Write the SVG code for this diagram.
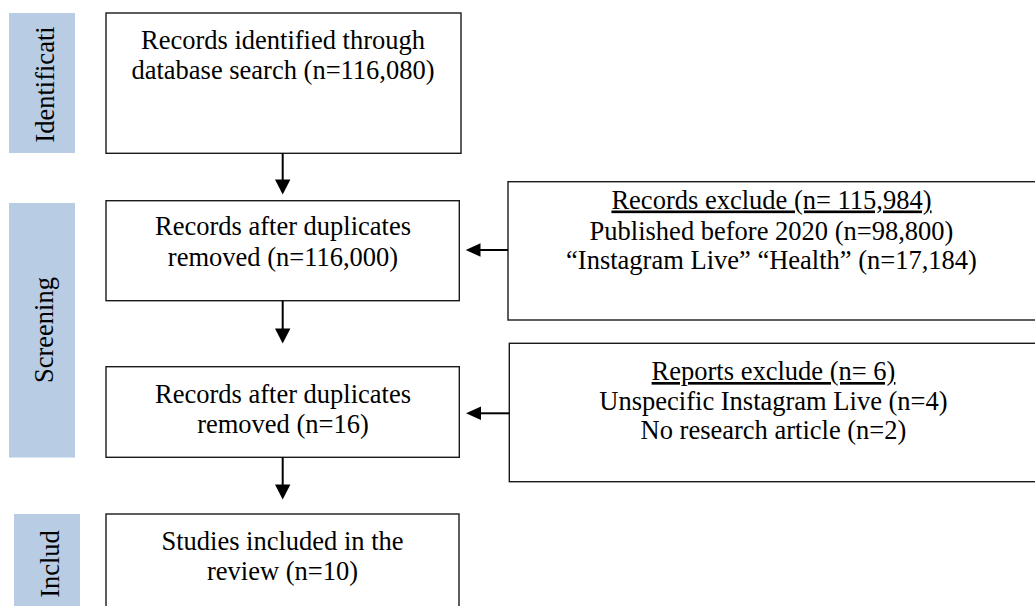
<svg xmlns="http://www.w3.org/2000/svg" width="1035" height="606" viewBox="0 0 1035 606">
  <style>
    .box { fill: #ffffff; stroke: #1a1a1a; stroke-width: 1.4; }
    .bar { fill: #b8cce4; stroke: none; }
    .t { font-family: "Liberation Serif", "Times New Roman", serif; font-size: 26.5px; fill: #000000; text-anchor: middle; }
    .conn { stroke: #000000; stroke-width: 2; fill: none; }
    .head { fill: #000000; stroke: none; }
  </style>
  <defs>
    <clipPath id="clipIdent"><rect x="9" y="13" width="66" height="140"/></clipPath>
    <clipPath id="clipIncl"><rect x="14" y="514" width="66" height="92"/></clipPath>
  </defs>
  <rect width="1035" height="606" fill="#ffffff"/>

  <g id="phase-identification">
    <rect class="bar" x="9" y="13" width="66" height="140"/>
    <g clip-path="url(#clipIdent)">
      <text class="t" transform="translate(54,84.5) rotate(-90)">Identificati</text>
    </g>
  </g>
  <g id="phase-screening">
    <rect class="bar" x="9" y="203" width="66" height="254.5"/>
    <text class="t" transform="translate(53,330) rotate(-90)">Screening</text>
  </g>
  <g id="phase-included">
    <rect class="bar" x="14" y="514" width="66" height="92"/>
    <g clip-path="url(#clipIncl)">
      <text class="t" transform="translate(59,564) rotate(-90)">Includ</text>
    </g>
  </g>

  <g id="node-identified">
    <rect class="box" x="106" y="13" width="355" height="140.3"/>
    <text class="t" x="283" y="48.5">Records identified through</text>
    <text class="t" x="283" y="78.5">database search (n=116,080)</text>
  </g>
  <g id="node-after-duplicates">
    <rect class="box" x="106" y="200.7" width="353.3" height="100"/>
    <text class="t" x="283" y="235">Records after duplicates</text>
    <text class="t" x="283" y="265.5">removed (n=116,000)</text>
  </g>
  <g id="node-records-exclude">
    <rect class="box" x="508" y="181.7" width="528" height="138.3"/>
    <text class="t" x="771.5" y="208.5" text-decoration="underline">Records exclude (n= 115,984)</text>
    <text class="t" x="771.5" y="239.5">Published before 2020 (n=98,800)</text>
    <text class="t" x="771.5" y="268.5">“Instagram Live” “Health” (n=17,184)</text>
  </g>
  <g id="node-after-screening">
    <rect class="box" x="106" y="366.7" width="353.3" height="90.6"/>
    <text class="t" x="283" y="402.5">Records after duplicates</text>
    <text class="t" x="283" y="432.5">removed (n=16)</text>
  </g>
  <g id="node-reports-exclude">
    <rect class="box" x="509.3" y="343.3" width="528" height="138.4"/>
    <text class="t" x="773.5" y="380" text-decoration="underline">Reports exclude (n= 6)</text>
    <text class="t" x="773.5" y="409.5">Unspecific Instagram Live (n=4)</text>
    <text class="t" x="773.5" y="438.5">No research article (n=2)</text>
  </g>
  <g id="node-included">
    <rect class="box" x="106" y="514" width="353" height="100"/>
    <text class="t" x="282.5" y="550">Studies included in the</text>
    <text class="t" x="282.5" y="579.5">review (n=10)</text>
  </g>

  <g id="connectors">
    <line class="conn" x1="282.7" y1="153.3" x2="282.7" y2="181"/>
    <polygon class="head" points="275,179.5 290.4,179.5 282.7,194.5"/>

    <line class="conn" x1="282.7" y1="300.7" x2="282.7" y2="330"/>
    <polygon class="head" points="275,328.5 290.4,328.5 282.7,343.5"/>

    <line class="conn" x1="282.7" y1="457.3" x2="282.7" y2="486"/>
    <polygon class="head" points="275,484.5 290.4,484.5 282.7,499.5"/>

    <line class="conn" x1="508" y1="250" x2="478" y2="250"/>
    <polygon class="head" points="480.5,243.3 480.5,256.7 465.7,250"/>

    <line class="conn" x1="509.3" y1="413.3" x2="479" y2="413.3"/>
    <polygon class="head" points="481,406.6 481,420 466,413.3"/>
  </g>
</svg>
